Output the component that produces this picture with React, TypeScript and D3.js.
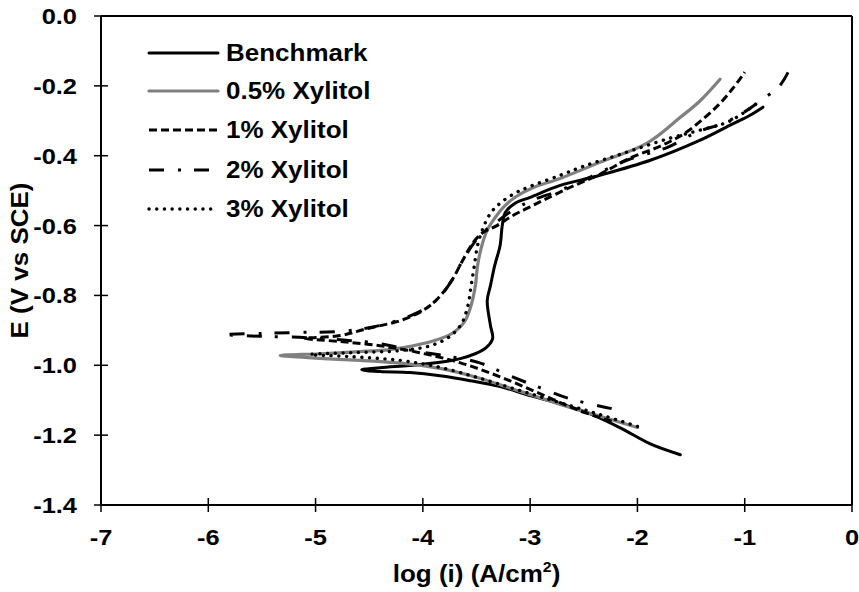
import React from "react";
import * as d3 from "d3";

const xTicks = [-7, -6, -5, -4, -3, -2, -1, 0];
const yTicks = [0, -0.2, -0.4, -0.6, -0.8, -1.0, -1.2, -1.4];

const seriesNames = ["Benchmark", "0.5% Xylitol", "1% Xylitol", "2% Xylitol", "3% Xylitol"];

const benchmarkLogI = [-1.60, -1.88, -2.16, -2.44, -2.72, -3.00, -3.28, -3.56, -3.84, -4.12, -4.40, -4.57, -4.40, -4.03, -3.65, -3.42, -3.35, -3.37, -3.40, -3.37, -3.33, -3.28, -3.26, -3.23, -3.14, -3.00, -2.72, -2.35, -1.88, -1.42, -1.14, -0.95, -0.83];
const benchmarkE = [-1.256, -1.225, -1.179, -1.139, -1.110, -1.087, -1.061, -1.044, -1.030, -1.021, -1.018, -1.013, -1.007, -0.998, -0.981, -0.952, -0.924, -0.886, -0.815, -0.772, -0.714, -0.657, -0.600, -0.562, -0.536, -0.519, -0.485, -0.456, -0.413, -0.356, -0.313, -0.284, -0.261];

const x05LogI = [-2.00, -2.35, -2.72, -3.10, -3.47, -3.84, -4.21, -4.59, -4.96, -5.33, -4.96, -4.59, -4.31, -4.09, -3.89, -3.73, -3.61, -3.55, -3.51, -3.49, -3.45, -3.40, -3.33, -3.25, -3.14, -2.97, -2.72, -2.35, -1.91, -1.60, -1.42, -1.23];
const x05E = [-1.178, -1.146, -1.112, -1.074, -1.037, -1.009, -0.994, -0.986, -0.980, -0.972, -0.967, -0.961, -0.955, -0.944, -0.929, -0.909, -0.874, -0.828, -0.771, -0.714, -0.657, -0.613, -0.579, -0.548, -0.519, -0.491, -0.465, -0.419, -0.364, -0.290, -0.244, -0.181];

const x1LogI = [-2.24, -2.54, -2.91, -3.28, -3.65, -4.03, -4.40, -4.77, -5.10, -4.77, -4.52, -4.21, -4.00, -3.87, -3.73, -3.64, -3.53, -3.44, -3.31, -3.16, -3.03, -2.88, -2.63, -2.35, -2.07, -1.79, -1.56, -1.37, -1.23, -1.11, -1.00];
const x1E = [-1.160, -1.130, -1.081, -1.033, -0.993, -0.964, -0.944, -0.932, -0.923, -0.915, -0.895, -0.872, -0.843, -0.812, -0.757, -0.706, -0.648, -0.620, -0.600, -0.571, -0.551, -0.528, -0.491, -0.453, -0.407, -0.373, -0.336, -0.290, -0.250, -0.207, -0.161];

const x2LogI = [-2.24, -2.63, -2.91, -3.19, -3.47, -3.75, -4.09, -4.40, -4.77, -5.15, -5.52, -5.86, -5.52, -5.15, -4.77, -4.49, -4.21, -3.98, -3.84, -3.73, -3.64, -3.54, -3.45, -3.33, -3.19, -3.00, -2.72, -2.44, -2.10, -1.72, -1.45, -1.20, -1.02, -0.86, -0.67, -0.55];
const x2E = [-1.124, -1.096, -1.064, -1.030, -0.993, -0.975, -0.958, -0.938, -0.927, -0.920, -0.917, -0.912, -0.909, -0.906, -0.903, -0.892, -0.869, -0.838, -0.803, -0.757, -0.706, -0.657, -0.622, -0.594, -0.562, -0.530, -0.499, -0.461, -0.413, -0.376, -0.333, -0.307, -0.278, -0.244, -0.198, -0.132];

const x3LogI = [-2.00, -2.35, -2.72, -3.10, -3.47, -3.84, -4.21, -4.68, -5.05, -4.68, -4.21, -3.93, -3.75, -3.64, -3.58, -3.55, -3.52, -3.49, -3.44, -3.37, -3.28, -3.14, -3.00, -2.72, -2.50, -2.16, -1.70, -1.42, -1.14, -0.86];
const x3E = [-1.175, -1.141, -1.107, -1.072, -1.037, -1.006, -0.986, -0.975, -0.969, -0.964, -0.958, -0.944, -0.918, -0.881, -0.829, -0.772, -0.714, -0.657, -0.608, -0.565, -0.536, -0.507, -0.488, -0.456, -0.430, -0.396, -0.350, -0.327, -0.301, -0.244];

const W = 859;
const H = 592;
const L = 101, R = 852, T = 16, B = 505;
const SX = 1.13;

type Sty = { stroke: string; width: number; dash?: string; cap: "butt" | "round" };
const styles: Sty[] = [
  { stroke: "#000", width: 3, cap: "round" },
  { stroke: "#808080", width: 3.2, cap: "round" },
  { stroke: "#000", width: 3, dash: "8,4", cap: "butt" },
  { stroke: "#000", width: 3, dash: "15,14,3,13", cap: "butt" },
  { stroke: "#000", width: 3.4, dash: "0.1,7.6", cap: "round" },
];

function T2(props: { x: number; y: number; anchor?: string; size: number; rotate?: number; children: React.ReactNode }) {
  const rot = props.rotate ? ` rotate(${props.rotate})` : "";
  return (
    <text transform={`translate(${props.x},${props.y})${rot} scale(${SX},1)`} textAnchor={props.anchor || "start"}
      dominantBaseline="central" fontSize={props.size}>
      {props.children}
    </text>
  );
}

export default function App() {
  const x = d3.scaleLinear().domain([-7, 0]).range([L, R]);
  const y = d3.scaleLinear().domain([-1.4, 0]).range([B, T]);
  const line = d3
    .line<[number, number]>()
    .x((d) => x(d[0]))
    .y((d) => y(d[1]))
    .curve(d3.curveCatmullRom.alpha(0.5));

  const series: [number[], number[]][] = [
    [benchmarkLogI, benchmarkE],
    [x05LogI, x05E],
    [x1LogI, x1E],
    [x2LogI, x2E],
    [x3LogI, x3E],
  ];

  const font = "'Liberation Sans', Arial, sans-serif";
  const legendY = [53, 91, 130, 170, 209];

  return (
    <svg width={W} height={H} style={{ position: "absolute", left: 0, top: 0, background: "#fff" }} fontFamily={font} fontWeight="bold">
      <rect x={0} y={0} width={W} height={H} fill="#fff" />
      {series.map(([xs, es], i) => {
        const pts = xs.map((v, k) => [v, es[k]] as [number, number]);
        const s = styles[i];
        return (
          <path key={i} d={line(pts) || ""} fill="none" stroke={s.stroke} strokeWidth={s.width}
            strokeDasharray={s.dash} strokeLinecap={s.cap} strokeLinejoin="round" />
        );
      })}
      <line x1={L} x2={R} y1={T} y2={T} stroke="#000" strokeWidth={2} />
      <line x1={R} x2={R} y1={T} y2={B} stroke="#000" strokeWidth={2} />
      <line x1={L} x2={L} y1={T} y2={B} stroke="#000" strokeWidth={2} />
      <line x1={L} x2={R} y1={B} y2={B} stroke="#000" strokeWidth={2} />
      {yTicks.map((t) => (
        <g key={"y" + t}>
          <line x1={L - 7} x2={L + 7} y1={y(t)} y2={y(t)} stroke="#000" strokeWidth={1.5} />
          <T2 x={77} y={y(t)} anchor="end" size={22.5}>{t.toFixed(1)}</T2>
        </g>
      ))}
      {xTicks.map((t) => (
        <g key={"x" + t}>
          <line x1={x(t)} x2={x(t)} y1={B - 7} y2={B + 7} stroke="#000" strokeWidth={1.5} />
          <T2 x={x(t)} y={537} anchor="middle" size={22.5}>{String(t)}</T2>
        </g>
      ))}
      <T2 x={(L + R) / 2} y={574} anchor="middle" size={23}>
        log (i) (A/cm<tspan fontSize={14} dy={-8}>2</tspan><tspan dy={8}>)</tspan>
      </T2>
      <T2 x={20} y={(T + B) / 2} anchor="middle" size={23} rotate={-90}>E (V vs SCE)</T2>
      {seriesNames.map((n, i) => {
        const s = styles[i];
        return (
          <g key={n}>
            <line x1={149} x2={218} y1={legendY[i]} y2={legendY[i]} stroke={s.stroke} strokeWidth={s.width}
              strokeDasharray={s.dash} strokeLinecap={s.cap} />
            <T2 x={226} y={legendY[i]} size={23}>{n}</T2>
          </g>
        );
      })}
    </svg>
  );
}
